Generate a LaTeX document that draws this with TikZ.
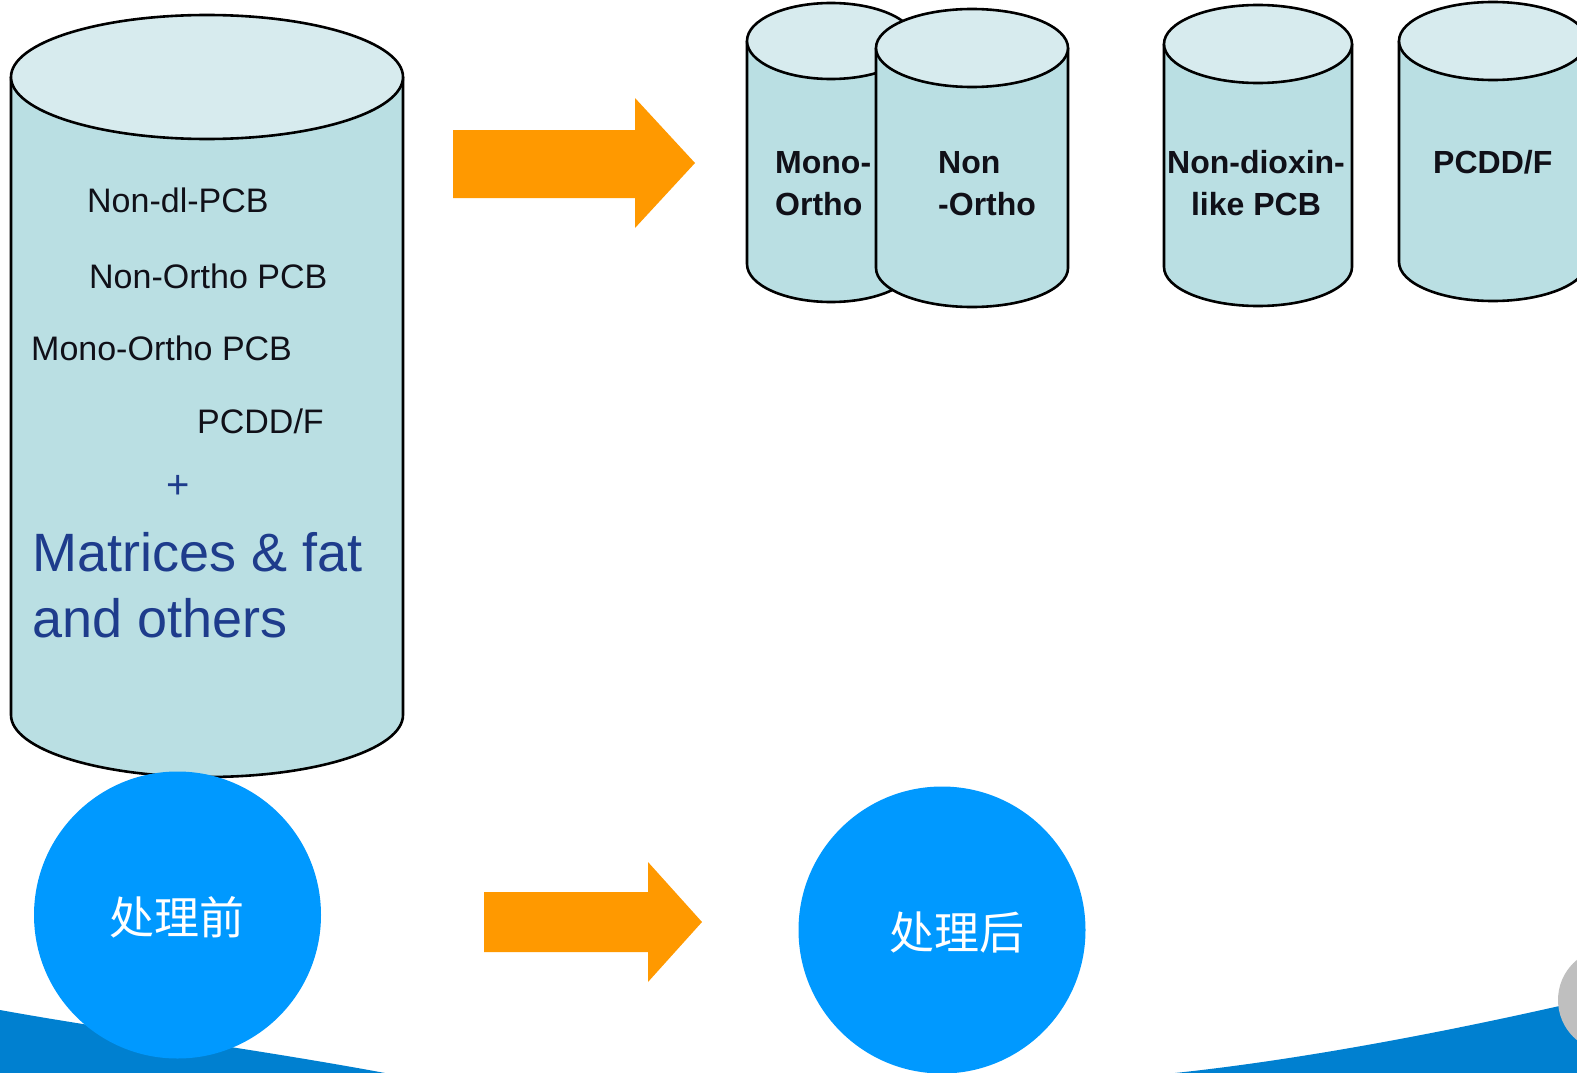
\documentclass[tikz,border=0pt]{standalone}
\usepackage{fontspec}
\setmainfont{Liberation Sans}
\newfontfamily\cjk{Noto Sans CJK SC}
\definecolor{bodyc}{HTML}{BADFE3}
\definecolor{topc}{HTML}{D7EBEE}
\definecolor{arrowc}{HTML}{FF9900}
\definecolor{circc}{HTML}{0099FF}
\definecolor{bandc}{HTML}{0080D0}
\definecolor{navy}{HTML}{1E3C8C}
\definecolor{txtc}{HTML}{101018}
\newcommand\drum[5]{%
  \fill[bodyc] (#1-#4,-#2) -- (#1-#4,-#3) arc[start angle=180,end angle=360,x radius=#4,y radius=#5] -- (#1+#4,-#2) -- cycle;
  \draw[edgeline] (#1-#4,-#2) -- (#1-#4,-#3) arc[start angle=180,end angle=360,x radius=#4,y radius=#5] -- (#1+#4,-#2);
  \filldraw[edgeline,fill=topc] (#1,-#2) ellipse[x radius=#4,y radius=#5];
}
\tikzset{
  edgeline/.style={draw=black,line width=2.6pt},
  blockarrow/.style={fill=arrowc},
  smalltxt/.style={anchor=base west,inner sep=0pt,text=txtc,font=\fontsize{34}{40}\selectfont},
  drumtxt/.style={anchor=base west,inner sep=0pt,text=txtc,font=\bfseries\fontsize{32}{38}\selectfont},
  bigtxt/.style={anchor=base west,inner sep=0pt,text=navy,font=\fontsize{54}{60}\selectfont},
  disc/.style={circle,fill=circc,minimum size=287pt,inner sep=0pt},
  disctxt/.style={text=white,inner sep=0pt,font=\cjk\fontsize{45}{50}\selectfont},
}
\begin{document}
\begin{tikzpicture}[x=1pt,y=1pt]
\useasboundingbox (0,0) rectangle (1577,-1073);
\clip (0,0) rectangle (1577,-1073);
\fill[white] (0,0) rectangle (1577,-1073);

% bottom band
\fill[bandc] (0,-1010) -- (0,-1073) -- (1577,-1073) -- (1577,-1002)
  .. controls (1420,-1038) and (1280,-1062) .. (1175,-1073) -- (385,-1073)
  .. controls (250,-1048) and (110,-1030) .. (0,-1010) -- cycle;
\fill[gray!50] (1610,-1000) circle[radius=52];

% big cylinder
\drum{207}{77}{715}{196}{62}
\node[smalltxt] (t1) at (87,-212) {Non-dl-PCB};
\node[smalltxt] (t2) at (89,-288) {Non-Ortho PCB};
\node[smalltxt] (t3) at (31,-360) {Mono-Ortho PCB};
\node[smalltxt] (t4) at (197,-433) {PCDD/F};
\node[text=navy,inner sep=0pt,font=\fontsize{40}{44}\selectfont] (plus) at (178,-487) {+};
\node[bigtxt] (m1) at (32,-571) {Matrices \& fat};
\node[bigtxt] (m2) at (32,-637) {and others};

% small cylinders
\drum{831}{41}{264}{84}{38}
\node[drumtxt] (c1a) at (775,-173) {Mono-};
\node[drumtxt] (c1b) at (775,-215) {Ortho};
\drum{972}{48}{268}{96}{39}
\node[drumtxt] (c2a) at (938,-173) {Non};
\node[drumtxt] (c2b) at (938,-215) {-Ortho};
\drum{1258}{44}{267}{94}{39}
\node[drumtxt,anchor=base] (c3a) at (1256,-173) {Non-dioxin-};
\node[drumtxt,anchor=base] (c3b) at (1256,-215) {like PCB};
\drum{1493}{41}{262}{94}{39}
\node[drumtxt] (c4a) at (1433,-173) {PCDD/F};

% arrows
\fill[blockarrow] (453,-130) -- (635,-130) -- (635,-98) -- (695,-163) -- (635,-228) -- (635,-198) -- (453,-198) -- cycle;
\fill[blockarrow] (484,-892) -- (648,-892) -- (648,-862) -- (702,-922) -- (648,-982) -- (648,-952) -- (484,-952) -- cycle;

% discs
\node[disc] (before) at (177.5,-915) {};
\node[disctxt] (beforetxt) at (177,-917) {处理前};
\node[disc] (after) at (942,-930) {};
\node[disctxt] (aftertxt) at (957,-932) {处理后};
\end{tikzpicture}
\end{document}
